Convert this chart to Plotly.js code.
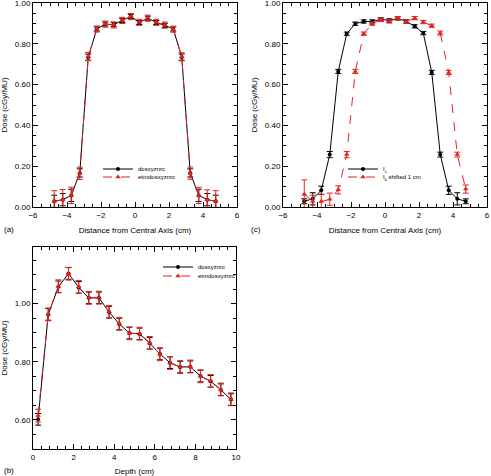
<!DOCTYPE html>
<html>
<head>
<meta charset="utf-8">
<script src="https://cdn.plot.ly/plotly-3.0.1.min.js"></script>
<style>html,body{margin:0;padding:0;background:#fff;}#chart{width:491px;height:476px;}</style>
</head>
<body>
<div id="chart"></div>
<script>
// ---- data ----
const xProfile = [-4.75,-4.25,-3.75,-3.25,-2.75,-2.25,-1.75,-1.25,-0.75,-0.25,0.25,0.75,1.25,1.75,2.25,2.75,3.25,3.75,4.25,4.75];

// panel (a)
const doseA_dos = [0.028,0.036,0.057,0.167,0.735,0.873,0.897,0.894,0.915,0.935,0.905,0.926,0.905,0.891,0.873,0.735,0.167,0.057,0.036,0.028];
const errA_dos  = [0.03,0.03,0.03,0.02,0.015,0.01,0.01,0.01,0.01,0.01,0.01,0.01,0.01,0.01,0.01,0.015,0.02,0.03,0.03,0.03];
const doseA_etm = [0.028,0.036,0.057,0.165,0.738,0.873,0.897,0.893,0.915,0.934,0.906,0.926,0.906,0.892,0.872,0.737,0.166,0.057,0.036,0.028];
const errA_etm  = [0.052,0.05,0.04,0.03,0.02,0.015,0.015,0.015,0.015,0.015,0.015,0.015,0.015,0.015,0.015,0.02,0.03,0.04,0.048,0.052];

// panel (c)
const doseC_Is = [0.028,0.040,0.082,0.257,0.665,0.850,0.899,0.910,0.910,0.920,0.915,0.925,0.910,0.886,0.853,0.660,0.257,0.082,0.040,0.028];
const errC_Is  = [0.012,0.03,0.02,0.015,0.01,0.008,0.008,0.008,0.008,0.008,0.008,0.008,0.008,0.008,0.008,0.01,0.012,0.02,0.03,0.012];
const doseC_Ik = [0.063,0.028,0.027,0.038,0.084,0.257,0.665,0.850,0.899,0.918,0.910,0.926,0.910,0.926,0.907,0.889,0.853,0.660,0.257,0.088];
const errC_Ik  = [0.07,0.03,0.035,0.03,0.02,0.015,0.01,0.008,0.008,0.008,0.008,0.008,0.008,0.008,0.008,0.008,0.01,0.01,0.012,0.02];

// panel (b)
const depth = [0.25,0.75,1.25,1.75,2.25,2.75,3.25,3.75,4.25,4.75,5.25,5.75,6.25,6.75,7.25,7.75,8.25,8.75,9.25,9.75];
const doseB_dos = [0.602,0.963,1.058,1.104,1.056,1.020,1.020,0.971,0.930,0.899,0.896,0.864,0.827,0.797,0.782,0.783,0.751,0.733,0.704,0.670];
const errB_dos  = [0.02,0.02,0.02,0.02,0.02,0.02,0.02,0.02,0.02,0.02,0.02,0.02,0.02,0.02,0.02,0.02,0.02,0.02,0.02,0.02];
const doseB_etm = [0.615,0.963,1.060,1.103,1.058,1.020,1.021,0.972,0.931,0.898,0.897,0.865,0.826,0.796,0.782,0.784,0.750,0.734,0.705,0.671];
const errB_etm  = [0.022,0.022,0.022,0.022,0.022,0.022,0.022,0.022,0.022,0.022,0.022,0.022,0.022,0.022,0.022,0.022,0.022,0.022,0.022,0.022];

const legendA = ['dosxyznrc','etmdosxyznrc'];
const legendC = ['I<sub>s</sub>','I<sub>k</sub> shifted 1 cm'];
const xTitle = 'Distance from Central Axis (cm)';
const yTitle = 'Dose (cGy/MU)';
const depthTitle = 'Depth (cm)';

// ---- styles ----
const BLACK = '#000000';
const RED = '#e3231f';
const FONT = 'Liberation Sans, Arial, sans-serif';

function blackTrace(x, y, e, xa, ya, name, leg) {
  return {x, y, type:'scatter', mode:'lines+markers', name, legend:leg, showlegend:true,
    xaxis:xa, yaxis:ya,
    line:{color:BLACK, width:1},
    marker:{symbol:'circle', size:4, color:BLACK},
    error_y:{type:'data', array:e, visible:true, color:BLACK, thickness:1, width:3}};
}
function redTrace(x, y, e, xa, ya, name, leg) {
  return {x, y, type:'scatter', mode:'lines+markers', name, legend:leg, showlegend:true,
    xaxis:xa, yaxis:ya,
    line:{color:RED, width:1, dash:'dash'},
    marker:{symbol:'triangle-up', size:5, color:RED},
    error_y:{type:'data', array:e, visible:true, color:RED, thickness:1, width:3}};
}

const traces = [
  blackTrace(xProfile, doseA_dos, errA_dos, 'x', 'y', legendA[0], 'legend'),
  redTrace(xProfile, doseA_etm, errA_etm, 'x', 'y', legendA[1], 'legend2'),
  blackTrace(xProfile, doseC_Is, errC_Is, 'x2', 'y2', legendC[0], 'legend3'),
  redTrace(xProfile, doseC_Ik, errC_Ik, 'x2', 'y2', legendC[1], 'legend4'),
  blackTrace(depth, doseB_dos, errB_dos, 'x3', 'y3', legendA[0], 'legend5'),
  redTrace(depth, doseB_etm, errB_etm, 'x3', 'y3', legendA[1], 'legend6')
];

function xax(domain, range, dtick, minor, title, anchor) {
  return {domain, range, tick0:0, dtick, anchor, ticks:'inside', ticklen:5, tickwidth:1, tickcolor:BLACK,
    minor:{dtick:minor, ticks:'inside', ticklen:3, tickwidth:1, tickcolor:BLACK},
    showline:true, linecolor:BLACK, linewidth:1, mirror:'ticks', showgrid:false, zeroline:false,
    ticklabeloverflow:'allow',
    tickfont:{family:FONT, size:8, color:BLACK},
    title:{text:title, font:{family:FONT, size:8, color:BLACK}, standoff:8}};
}
function yax(domain, range, tick0, dtick, minor, title, anchor) {
  return {domain, range, tick0, dtick, anchor, tickformat:'.2f', ticks:'inside', ticklen:5, tickwidth:1, tickcolor:BLACK,
    minor:{dtick:minor, ticks:'inside', ticklen:3, tickwidth:1, tickcolor:BLACK},
    showline:true, linecolor:BLACK, linewidth:1, mirror:'ticks', showgrid:false, zeroline:false,
    ticklabeloverflow:'allow',
    tickfont:{family:FONT, size:8, color:BLACK},
    title:{text:title, font:{family:FONT, size:8, color:BLACK}, standoff:6}};
}

const W = 491, H = 476;
const px = v => v / W, py = v => 1 - v / H;

function leg(xPix, yPix) {
  return {x:px(xPix), y:py(yPix), xanchor:'left', yanchor:'middle',
    font:{family:FONT, size:6, color:BLACK}, bgcolor:'rgba(0,0,0,0)', borderwidth:0, itemwidth:30};
}

const layout = {
  width:W, height:H, margin:{l:0, r:0, t:0, b:0},
  paper_bgcolor:'#fff', plot_bgcolor:'#fff',
  font:{family:FONT, size:8, color:BLACK},
  xaxis: xax([px(33), px(237)], [-6, 6], 2, 0.5, xTitle, 'y'),
  yaxis: yax([py(207), py(3)], [0, 1.0005], 0, 0.2, 0.05, yTitle, 'x'),
  xaxis2: xax([px(283), px(487)], [-6, 6], 2, 0.5, xTitle, 'y2'),
  yaxis2: yax([py(207), py(3)], [0, 1.0005], 0, 0.2, 0.05, yTitle, 'x2'),
  xaxis3: xax([px(33), px(236)], [0, 10], 2, 0.4, depthTitle, 'y3'),
  yaxis3: yax([py(449), py(247)], [0.5, 1.195], 0.6, 0.2, 0.05, yTitle, 'x3'),
  legend:  leg(98, 169),
  legend2: leg(98, 177),
  legend3: leg(343, 169),
  legend4: leg(343, 177),
  legend5: leg(158, 267),
  legend6: leg(158, 276),
  annotations:[
    {text:'(a)', x:px(2), y:py(229), xref:'paper', yref:'paper', xanchor:'left', yanchor:'middle', showarrow:false, font:{family:FONT, size:8}},
    {text:'(c)', x:px(249), y:py(229), xref:'paper', yref:'paper', xanchor:'left', yanchor:'middle', showarrow:false, font:{family:FONT, size:8}},
    {text:'(b)', x:px(2), y:py(470), xref:'paper', yref:'paper', xanchor:'left', yanchor:'middle', showarrow:false, font:{family:FONT, size:8}}
  ]
};

Plotly.newPlot('chart', traces, layout, {displayModeBar:false, staticPlot:true});
</script>
</body>
</html>
